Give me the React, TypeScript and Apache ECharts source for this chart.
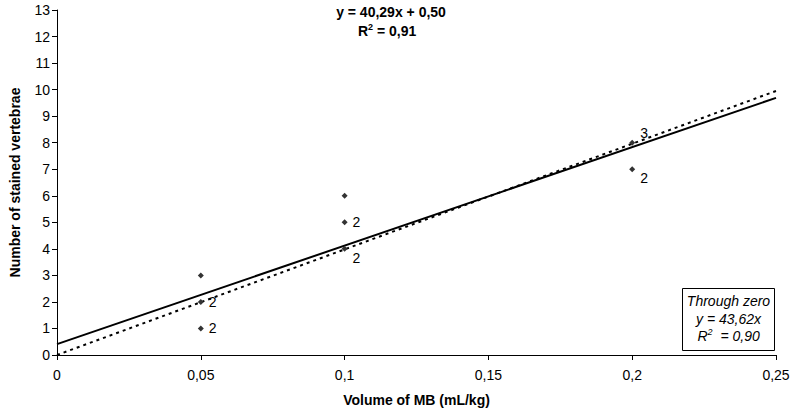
import React, { useEffect, useRef } from "react";
import * as echarts from "echarts";

// Observed data points (volume of MB, number of stained vertebrae, count label)
const pointX = [0.05, 0.05, 0.05, 0.1, 0.1, 0.1, 0.2, 0.2];
const pointY = [1, 2, 3, 4, 5, 6, 7, 8];
const pointCount = ["2", "2", "", "2", "2", "", "2", "3"];
const labelPlace = ["right", "right", "right", "bottomRight", "right", "right", "bottomRight", "topRight"];

// Trend lines as drawn (end points)
const fitLine = [[0, 0.41], [0.25, 9.69]];
const zeroLine = [[0, 0], [0.25, 9.95]];

const xTicks = [0, 0.05, 0.1, 0.15, 0.2, 0.25];
const yMax = 13;

const FONT = "'Liberation Sans', Arial, sans-serif";

export default function App() {
  const ref = useRef<HTMLDivElement>(null);
  useEffect(() => {
    if (!ref.current) return;
    const chart = echarts.init(ref.current, undefined, { renderer: "svg" });
    const labelFor = (p: string) => {
      if (p === "bottomRight") return { position: "right", offset: [0, 9] };
      if (p === "topRight") return { position: "right", offset: [0, -10] };
      return { position: "right", offset: [0, 0] };
    };
    const scatterData = pointX.map((x, i) => {
      const l = labelFor(labelPlace[i]);
      return {
        value: [x, pointY[i]],
        label: {
          show: pointCount[i] !== "",
          formatter: pointCount[i],
          position: l.position,
          offset: l.offset,
          distance: 5,
          color: "#000",
          fontSize: 14,
          fontFamily: FONT,
        },
      };
    });
    chart.setOption({
      animation: false,
      backgroundColor: "#fff",
      grid: { left: 51, right: 17, top: 10, bottom: 57, containLabel: false },
      xAxis: {
        type: "value",
        min: xTicks[0],
        max: xTicks[xTicks.length - 1],
        interval: 0.05,
        name: "Volume of MB (mL/kg)",
        nameLocation: "middle",
        nameGap: 38,
        nameTextStyle: { fontFamily: FONT, fontSize: 14, fontWeight: "bold", color: "#000" },
        axisLine: { lineStyle: { color: "#000", width: 1 } },
        axisTick: { show: true, length: 5, lineStyle: { color: "#000" } },
        axisLabel: {
          fontFamily: FONT,
          fontSize: 14,
          color: "#000",
          margin: 13,
          formatter: (v: number) => String(Math.round(v * 100) / 100).replace(".", ","),
        },
        splitLine: { show: false },
      },
      yAxis: {
        type: "value",
        min: 0,
        max: yMax,
        interval: 1,
        name: "Number of stained vertebrae",
        nameLocation: "middle",
        nameGap: 35,
        nameTextStyle: { fontFamily: FONT, fontSize: 14, fontWeight: "bold", color: "#000" },
        axisLine: { show: true, lineStyle: { color: "#000", width: 1 } },
        axisTick: { show: true, length: 5, lineStyle: { color: "#000" } },
        axisLabel: { fontFamily: FONT, fontSize: 14, color: "#000", margin: 7 },
        splitLine: { show: false },
      },
      series: [
        {
          type: "line",
          data: fitLine,
          showSymbol: false,
          symbol: "none",
          lineStyle: { color: "#000", width: 2 },
          z: 2,
        },
        {
          type: "line",
          data: zeroLine,
          showSymbol: false,
          symbol: "none",
          lineStyle: { color: "#000", width: 2, type: [3, 4] },
          z: 2,
        },
        {
          type: "scatter",
          symbol: "diamond",
          symbolSize: 6,
          itemStyle: { color: "#333", opacity: 1 },
          data: scatterData,
          z: 3,
        },
      ],
      graphic: [
        {
          type: "text",
          x: 391,
          y: 12,
          style: {
            text: "y = 40,29x + 0,50",
            font: `bold 14px ${FONT}`,
            fill: "#000",
            align: "center",
            verticalAlign: "middle",
          },
        },
        {
          type: "text",
          x: 358,
          y: 22,
          style: {
            text: "{b|R}{s|2}{b| = 0,91}",
            fill: "#000",
            rich: {
              b: { fontFamily: FONT, fontSize: 14, fontWeight: "bold", color: "#000", lineHeight: 17 },
              s: { fontFamily: FONT, fontSize: 9, fontWeight: "bold", color: "#000", verticalAlign: "top", lineHeight: 17, padding: [0, 0, 7, 0] },
            },
          },
        },
        {
          type: "group",
          left: 682,
          top: 288,
          children: [
            {
              type: "rect",
              shape: { x: 0, y: 0, width: 92, height: 62 },
              style: { fill: "#fff", stroke: "#000", lineWidth: 1 },
            },
            {
              type: "text",
              x: 46,
              y: 12,
              style: { text: "Through zero", font: `italic 14px ${FONT}`, fill: "#000", align: "center", verticalAlign: "middle" },
            },
            {
              type: "text",
              x: 46,
              y: 30,
              style: { text: "y = 43,62x", font: `italic 14px ${FONT}`, fill: "#000", align: "center", verticalAlign: "middle" },
            },
            {
              type: "text",
              x: 15,
              y: 39,
              style: {
                text: "{i|R}{s|2}{i|  = 0,90}",
                rich: {
                  i: { fontFamily: FONT, fontSize: 14, fontStyle: "italic", color: "#000", lineHeight: 17 },
                  s: { fontFamily: FONT, fontSize: 9, fontStyle: "italic", color: "#000", verticalAlign: "top", lineHeight: 17, padding: [0, 0, 7, 0] },
                },
              },
            },
          ],
        },
      ],
    });
    return () => chart.dispose();
  }, []);
  return <div ref={ref} style={{ width: 793, height: 412, position: "absolute", left: 0, top: 0 }} />;
}
